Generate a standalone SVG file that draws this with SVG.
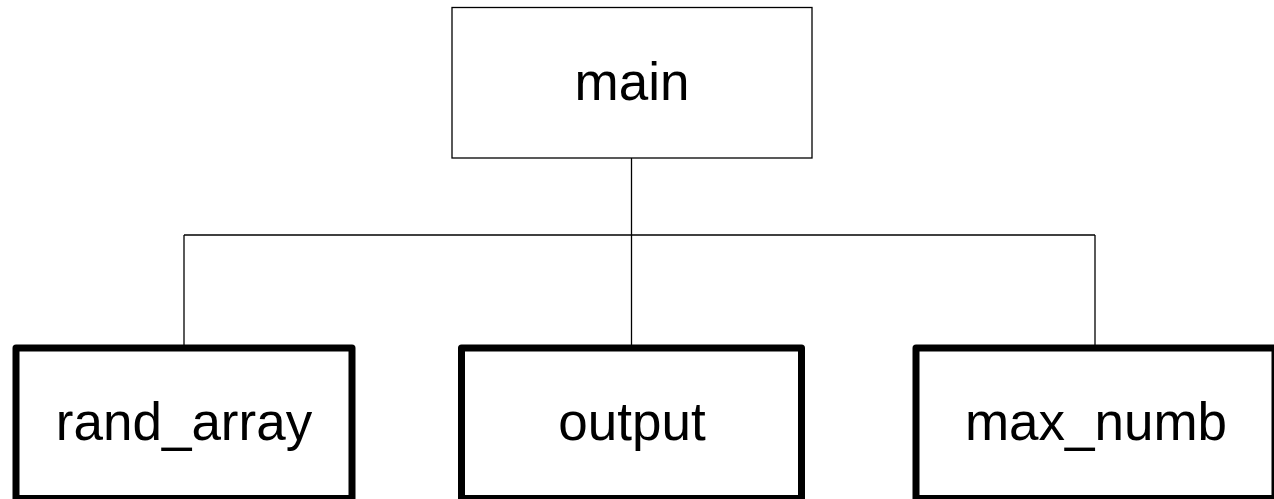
<svg xmlns="http://www.w3.org/2000/svg" width="1274" height="499" viewBox="0 0 1274 499">
  <style>
    .thin { fill: #ffffff; stroke: #000000; stroke-width: 1.3; }
    .thick { fill: #ffffff; stroke: #000000; stroke-width: 7; stroke-linejoin: round; }
    .wire { fill: none; stroke: #000000; stroke-width: 1.3; }
    .label { font-family: "Liberation Sans", Arial, sans-serif; font-size: 53px; fill: #000000; text-anchor: middle; }
  </style>
  <rect x="0" y="0" width="1274" height="499" fill="#ffffff"/>

  <!-- tree connectors -->
  <g id="connectors">
    <path class="wire" d="M631.5 158 V235"/>
    <path class="wire" d="M184 235 H1095"/>
    <path class="wire" d="M184 235 V348"/>
    <path class="wire" d="M631.5 235 V348"/>
    <path class="wire" d="M1095 235 V348"/>
  </g>

  <g id="node-main">
    <rect class="thin" x="452" y="7.5" width="360" height="150.5"/>
    <text class="label" x="632" y="100">main</text>
  </g>

  <g id="node-rand_array">
    <rect class="thick" x="16" y="348" width="336" height="150.5"/>
    <text class="label" x="184" y="440">rand_array</text>
  </g>

  <g id="node-output">
    <rect class="thick" x="461.5" y="348" width="340" height="150.5"/>
    <text class="label" x="632" y="440">output</text>
  </g>

  <g id="node-max_numb">
    <rect class="thick" x="916" y="348" width="359" height="150.5"/>
    <text class="label" x="1096" y="440">max_numb</text>
  </g>
</svg>
